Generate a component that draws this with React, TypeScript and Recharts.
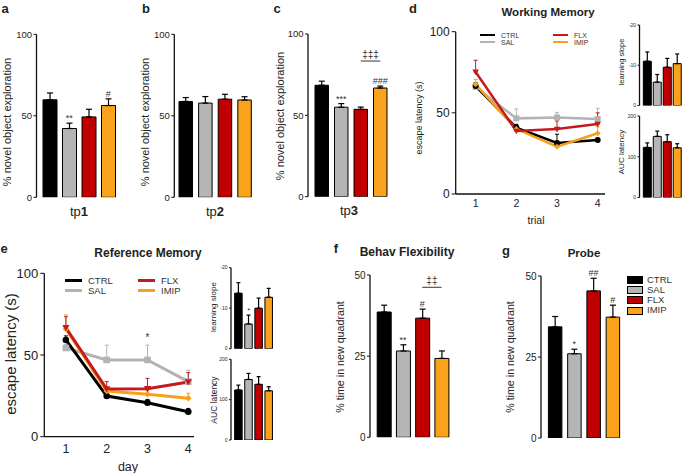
import React from 'react';
import {
  BarChart, Bar, Cell, XAxis, YAxis, ErrorBar,
  LineChart, Line, ReferenceDot, ReferenceLine
} from 'recharts';

const W = 685;
const H = 473;
const FONT = '"Liberation Sans", Arial, Helvetica, sans-serif';

const GROUPS = ['CTRL', 'SAL', 'FLX', 'IMIP'];
const BAR_COLORS = ['#000000', '#b5b5b5', '#c00000', '#fba21c'];
const LINE_COLORS = ['#000000', '#b3b3b3', '#c41a1f', '#f7a11a'];

// a-c: novel object recognition, % novel object exploration
const NOR_TICKS = [0, 50, 100];
const tp1Mean = [59.8, 42.2, 49.3, 56.3];
const tp1Err = [4.2, 3.3, 4.7, 4.1];
const tp1Marks = ['', '**', '', '#'];
const tp2Mean = [58.8, 57.8, 60.2, 59.7];
const tp2Err = [2.4, 4.0, 3.0, 2.0];
const tp3Mean = [68.5, 55.0, 53.7, 66.8];
const tp3Err = [2.5, 2.2, 1.4, 1.2];
const tp3Marks = ['', '***', '', '###'];

// d: working memory, escape latency per trial
const TRIALS = [1, 2, 3, 4];
const LAT_TICKS = [0, 50, 100];
const wmCtrl = [66.5, 40.9, 31.4, 33.3];
const wmCtrlErr = [2, 2, 5.4, 1];
const wmSal = [66, 46.6, 47.2, 46.2];
const wmSalErr = [2.5, 5.8, 3.1, 6.6];
const wmFlx = [75.2, 38.8, 40, 43.1];
const wmFlxErr = [7.2, 1.5, 5, 6.9];
const wmImip = [67.6, 40, 29.1, 37.4];
const wmImipErr = [3, 2, 1.5, 4];
const wmSlope = [-11, -5.8, -9.5, -10.4];
const wmSlopeErr = [2.3, 1.9, 2.2, 2.4];
const wmAuc = [123, 150, 137, 122];
const wmAucErr = [11, 13, 17, 10];

// e: reference memory, escape latency per day
const rmCtrl = [59.2, 24.9, 20.8, 15.3];
const rmCtrlErr = [2.5, 1, 2, 2];
const rmSal = [54.3, 47, 47, 33.7];
const rmSalErr = [2, 9, 9, 7];
const rmFlx = [66.7, 29.2, 29.4, 33.5];
const rmFlxErr = [6.7, 4.5, 6.3, 5.7];
const rmImip = [65.9, 28, 26, 23.6];
const rmImipErr = [8.6, 2, 2, 3];
const rmSlope = [-13.7, -6.1, -10, -12.7];
const rmSlopeErr = [2.6, 2.2, 2.5, 2.2];
const rmSlopeMarks = ['', '*', '', ''];
const rmAuc = [124, 150, 138, 122];
const rmAucErr = [12, 15, 19, 10];

const SLOPE_TICKS = [-20, -10, 0];
const AUC_TICKS = [0, 100, 200];

// f, g: % time in new quadrant
const PCT_TICKS = [0, 25, 50];
const flexMean = [38.6, 26.6, 36.7, 24.3];
const flexErr = [2.1, 1.9, 2.8, 2.3];
const flexMarks = ['', '**', '#', ''];
const probeMean = [34.3, 26, 45.4, 37.3];
const probeErr = [3.2, 1.4, 3.9, 3.7];
const probeMarks = ['', '*', '##', '#'];

const axisStyle = { stroke: '#111', strokeWidth: 1.3 };

function T({ x, y, size, bold, rot, anchor, color, children }: any) {
  const tx = anchor === 'start' ? '0' : '-50%';
  return (
    <div
      style={{
        position: 'absolute', left: x, top: y, fontSize: size, fontFamily: FONT,
        fontWeight: bold ? 700 : 400, color: color || '#222', whiteSpace: 'nowrap', lineHeight: 1,
        transform: `translate(${tx},-50%)${rot ? ' rotate(-90deg)' : ''}`,
      }}
    >
      {children}
    </div>
  );
}

function BarPanel({ rect, means, errs, domain, ticks, pad, barSize, tickFont, tickSize = 3, cap = 3, reversed = false, marks, markFont = 9, bracket }: any) {
  const [x0, y0, x1, y1] = rect;
  const data = GROUPS.map((name, i) => ({
    name,
    value: means[i],
    err: reversed ? [errs[i], 0] : [0, errs[i]],
  }));
  return (
    <div style={{ position: 'absolute', left: 0, top: 0 }}>
      <BarChart width={W} height={H} data={data} margin={{ top: y0, bottom: H - y1, left: x0 - 30, right: W - x1 }}>
        <XAxis dataKey="name" tick={false} tickLine={false} height={0} padding={{ left: pad[0], right: pad[1] }} axisLine={axisStyle} />
        <YAxis
          type="number" width={30} domain={domain} ticks={ticks} interval={0} reversed={reversed}
          tickSize={tickSize} tickMargin={1.5} axisLine={axisStyle} tickLine={{ stroke: '#111' }}
          tick={{ fontSize: tickFont, fill: '#222', fontFamily: FONT }} allowDataOverflow
        />
        <Bar dataKey="value" barSize={barSize} stroke="#000" strokeWidth={1} isAnimationActive={false}>
          {data.map((d, i) => <Cell key={d.name} fill={BAR_COLORS[i]} />)}
          <ErrorBar dataKey="err" direction="y" width={cap} stroke="#000" strokeWidth={1.2} />
        </Bar>
        {marks && marks.map((m: string, i: number) => m ? (
          <ReferenceDot
            key={`m${i}`} x={GROUPS[i]} y={reversed ? means[i] - errs[i] : means[i] + errs[i]}
            r={0} fill="none" stroke="none" ifOverflow="visible"
            label={{ value: m, position: 'top', offset: 2, fontSize: markFont, fill: '#333', fontFamily: FONT }}
          />
        ) : null)}
        {bracket && (
          <ReferenceLine
            segment={[{ x: bracket.from, y: bracket.y }, { x: bracket.to, y: bracket.y }]}
            stroke="#555" strokeWidth={1.2} ifOverflow="visible"
            label={{ value: bracket.text, position: 'top', offset: 3, fontSize: 10, fill: '#333', fontFamily: FONT }}
          />
        )}
      </BarChart>
    </div>
  );
}

const dotShape = (shape: string, color: string, s: number) => (p: any) => {
  const { cx, cy, index } = p;
  const k = `${shape}-${index}`;
  if (cx == null || cy == null) return <g key={k} />;
  if (shape === 'circle') return <circle key={k} cx={cx} cy={cy} r={s} fill={color} />;
  if (shape === 'square') return <rect key={k} x={cx - s} y={cy - s} width={2 * s} height={2 * s} fill={color} />;
  if (shape === 'triangle') {
    return <polygon key={k} points={`${cx - s * 1.1},${cy - s * 0.8} ${cx + s * 1.1},${cy - s * 0.8} ${cx},${cy + s * 1.1}`} fill={color} />;
  }
  return <polygon key={k} points={`${cx},${cy - s} ${cx + s},${cy} ${cx},${cy + s} ${cx - s},${cy}`} fill={color} />;
};

const X_AXIS_H = 24;

function LinePanel({ rect, xDomain, series, tickFont, xTickFont, xTickMargin, lineWidth, dotSize, marks }: any) {
  const [x0, y0, x1, y1] = rect;
  const data = TRIALS.map((t, i) => {
    const row: any = { x: t };
    series.forEach((s: any) => {
      row[s.key] = s.means[i];
      row[`${s.key}Err`] = [0, s.errs[i]];
    });
    return row;
  });
  return (
    <div style={{ position: 'absolute', left: 0, top: 0 }}>
      <LineChart width={W} height={H} data={data} margin={{ top: y0, bottom: H - y1 - X_AXIS_H, left: x0 - 30, right: W - x1 }}>
        <XAxis
          dataKey="x" type="number" domain={xDomain} ticks={TRIALS} interval={0} height={X_AXIS_H}
          axisLine={axisStyle} tickLine={false} tickSize={0} tickMargin={xTickMargin}
          tick={{ fontSize: xTickFont, fill: '#222', fontFamily: FONT }} allowDataOverflow
        />
        <YAxis
          type="number" width={30} domain={[0, 100]} ticks={LAT_TICKS} interval={0}
          tickSize={4} tickMargin={2} axisLine={axisStyle} tickLine={{ stroke: '#111' }}
          tick={{ fontSize: tickFont, fill: '#222', fontFamily: FONT }}
        />
        {series.map((s: any) => (
          <Line
            key={s.key} type="linear" dataKey={s.key} stroke={s.color} strokeWidth={lineWidth}
            dot={dotShape(s.shape, s.color, dotSize)} activeDot={false} isAnimationActive={false}
          >
            <ErrorBar dataKey={`${s.key}Err`} direction="y" width={2} stroke={s.color} strokeWidth={1} />
          </Line>
        ))}
        {marks && marks.map((m: any, i: number) => (
          <ReferenceDot
            key={`lm${i}`} x={m.x} y={m.y} r={0} fill="none" stroke="none" ifOverflow="visible"
            label={{ value: m.text, position: 'center', fontSize: 10, fill: '#333', fontFamily: FONT }}
          />
        ))}
      </LineChart>
    </div>
  );
}

function LineLegend({ items, x, y, colGap, rowGap, lineLen, gap, size, lw }: any) {
  return (
    <>
      {items.map((it: any, i: number) => {
        const lx = x + (i >= 2 ? colGap : 0);
        const ly = y + (i % 2) * rowGap;
        return (
          <React.Fragment key={it.label}>
            <div style={{ position: 'absolute', left: lx, top: ly - lw / 2, width: lineLen, height: lw, background: it.color }} />
            <T x={lx + lineLen + gap} y={ly} size={size} anchor="start" color="#333">{it.label}</T>
          </React.Fragment>
        );
      })}
    </>
  );
}

const legendItems = [
  { label: 'CTRL', color: LINE_COLORS[0] },
  { label: 'SAL', color: LINE_COLORS[1] },
  { label: 'FLX', color: LINE_COLORS[2] },
  { label: 'IMIP', color: LINE_COLORS[3] },
];

export default function App() {
  const wmSeries = [
    { key: 'sal', means: wmSal, errs: wmSalErr, color: LINE_COLORS[1], shape: 'square' },
    { key: 'ctrl', means: wmCtrl, errs: wmCtrlErr, color: LINE_COLORS[0], shape: 'circle' },
    { key: 'imip', means: wmImip, errs: wmImipErr, color: LINE_COLORS[3], shape: 'diamond' },
    { key: 'flx', means: wmFlx, errs: wmFlxErr, color: LINE_COLORS[2], shape: 'triangle' },
  ];
  const rmSeries = [
    { key: 'sal', means: rmSal, errs: rmSalErr, color: LINE_COLORS[1], shape: 'square' },
    { key: 'ctrl', means: rmCtrl, errs: rmCtrlErr, color: LINE_COLORS[0], shape: 'circle' },
    { key: 'imip', means: rmImip, errs: rmImipErr, color: LINE_COLORS[3], shape: 'diamond' },
    { key: 'flx', means: rmFlx, errs: rmFlxErr, color: LINE_COLORS[2], shape: 'triangle' },
  ];

  return (
    <div style={{ position: 'absolute', left: 0, top: 0, width: W, height: H, background: '#fff', overflow: 'hidden', fontFamily: FONT }}>
      {/* a */}
      <BarPanel rect={[36.5, 34.3, 122.7, 197.3]} means={tp1Mean} errs={tp1Err} domain={[0, 100]} ticks={NOR_TICKS}
        pad={[3.5, 4.7]} barSize={14} tickFont={9.5} marks={tp1Marks} />
      {/* b */}
      <BarPanel rect={[174.3, 34.3, 256, 197.3]} means={tp2Mean} errs={tp2Err} domain={[0, 100]} ticks={NOR_TICKS}
        pad={[1.7, 1.6]} barSize={13.5} tickFont={9.5} />
      {/* c */}
      <BarPanel rect={[308, 34, 391, 196.7]} means={tp3Mean} errs={tp3Err} domain={[0, 100]} ticks={NOR_TICKS}
        pad={[4, 1]} barSize={13.5} tickFont={9.5} marks={tp3Marks}
        bracket={{ from: 'FLX', to: 'IMIP', y: 83.4, text: '‡‡‡' }} />

      {/* d */}
      <LinePanel rect={[455.7, 31.7, 605, 194]} xDomain={[0.51, 4.18]} series={wmSeries}
        tickFont={12} xTickFont={10.5} xTickMargin={6} lineWidth={2.5} dotSize={3} />
      <BarPanel rect={[639.5, 25, 683, 105.5]} means={wmSlope} errs={wmSlopeErr} domain={[-20, 0]} ticks={SLOPE_TICKS}
        pad={[2.8, 0.8]} barSize={8} tickFont={5} tickSize={2} cap={2} reversed />
      <BarPanel rect={[639.5, 116, 683, 197.5]} means={wmAuc} errs={wmAucErr} domain={[0, 200]} ticks={AUC_TICKS}
        pad={[2.8, 0.8]} barSize={8} tickFont={5} tickSize={2} cap={2} />

      {/* e */}
      <LinePanel rect={[44.3, 273.3, 194, 436.7]} xDomain={[0.47, 4.14]} series={rmSeries}
        tickFont={13} xTickFont={12.5} xTickMargin={7} lineWidth={3} dotSize={3.3}
        marks={[{ x: 3, y: 61, text: '*' }]} />
      <BarPanel rect={[231, 267.7, 275, 348.7]} means={rmSlope} errs={rmSlopeErr} domain={[-20, 0]} ticks={SLOPE_TICKS}
        pad={[2.65, 0.95]} barSize={7.5} tickFont={5} tickSize={2} cap={2} reversed marks={rmSlopeMarks} markFont={8} />
      <BarPanel rect={[231, 359.3, 275, 440]} means={rmAuc} errs={rmAucErr} domain={[0, 200]} ticks={AUC_TICKS}
        pad={[2.65, 0.95]} barSize={7.5} tickFont={5} tickSize={2} cap={2} />

      {/* f */}
      <BarPanel rect={[370, 275, 456, 437.3]} means={flexMean} errs={flexErr} domain={[0, 50]} ticks={PCT_TICKS}
        pad={[4.2, 4.85]} barSize={14} tickFont={10} marks={flexMarks}
        bracket={{ from: 'FLX', to: 'IMIP', y: 46.2, text: '‡‡' }} />
      {/* g */}
      <BarPanel rect={[541, 276, 626.7, 438]} means={probeMean} errs={probeErr} domain={[0, 50]} ticks={PCT_TICKS}
        pad={[4.4, 4.3]} barSize={13.5} tickFont={10} marks={probeMarks} />

      {/* panel letters */}
      <T x={5} y={8} size={13} bold>a</T>
      <T x={146} y={8} size={13} bold>b</T>
      <T x={277} y={8} size={13} bold>c</T>
      <T x={413} y={8} size={13} bold>d</T>
      <T x={4} y={248} size={13} bold>e</T>
      <T x={336} y={248} size={13} bold>f</T>
      <T x={506} y={250} size={13} bold>g</T>

      {/* titles */}
      <T x={548} y={12.5} size={11.5} bold>Working Memory</T>
      <T x={148} y={252.5} size={12} bold>Reference Memory</T>
      <T x={407} y={252} size={12} bold>Behav Flexibility</T>
      <T x={584} y={253.5} size={11.5} bold>Probe</T>

      {/* y labels */}
      <T x={7} y={122} size={11} rot>% novel object exploration</T>
      <T x={144.5} y={122} size={11} rot>% novel object exploration</T>
      <T x={280} y={116} size={11} rot>% novel object exploration</T>
      <T x={418.5} y={118} size={9} rot>escape latency (s)</T>
      <T x={621.5} y={62} size={7.5} rot>learning slope</T>
      <T x={621.5} y={152} size={8} rot>AUC latency</T>
      <T x={9.5} y={354} size={15} rot>escape latency (s)</T>
      <T x={213.5} y={307} size={8} rot>learning slope</T>
      <T x={213.5} y={400} size={8.5} rot>AUC latency</T>
      <T x={340} y={357} size={10.7} rot>% time in new quadrant</T>
      <T x={510} y={357} size={10.7} rot>% time in new quadrant</T>

      {/* x labels */}
      <T x={79} y={211} size={13}>tp<b>1</b></T>
      <T x={215} y={211} size={13}>tp<b>2</b></T>
      <T x={349} y={210} size={13}>tp<b>3</b></T>
      <T x={536} y={220} size={10.5}>trial</T>
      <T x={128} y={467} size={12.5}>day</T>

      {/* line legends */}
      <LineLegend items={legendItems} x={480} y={35} colGap={73} rowGap={7} lineLen={15} gap={6} size={7} lw={2.5} />
      <LineLegend items={legendItems} x={65} y={280.7} colGap={73} rowGap={10} lineLen={17} gap={6} size={9.5} lw={3} />

      {/* g legend */}
      {GROUPS.map((g, i) => (
        <React.Fragment key={g}>
          <div style={{ position: 'absolute', left: 627, top: 279.5 + i * 10.2 - 3.5, width: 14, height: 6, background: BAR_COLORS[i], border: '1px solid #000' }} />
          <T x={647} y={279.5 + i * 10.2} size={9.5} anchor="start" color="#333">{g}</T>
        </React.Fragment>
      ))}
    </div>
  );
}
